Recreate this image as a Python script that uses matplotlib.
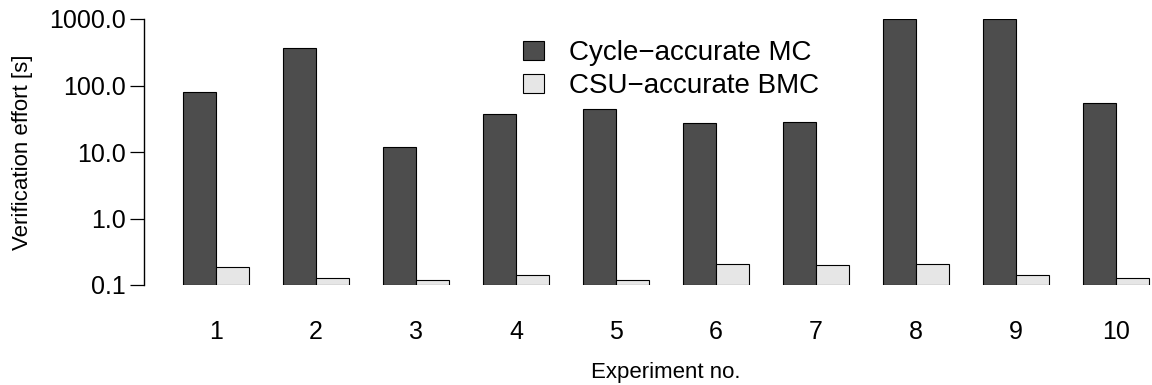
import matplotlib
matplotlib.use('Agg')
import matplotlib.pyplot as plt
from matplotlib.patches import Patch
import numpy as np

plt.rcParams['font.family'] = ['Liberation Sans', 'DejaVu Sans']

# Data
experiments = ['1', '2', '3', '4', '5', '6', '7', '8', '9', '10']
cycle_mc = [79, 363, 12.0, 37.7, 44.8, 27.0, 28.0, 1000, 1000, 54]
csu_bmc = [0.188, 0.129, 0.118, 0.14, 0.118, 0.207, 0.2, 0.207, 0.14, 0.127]
series_names = ['Cycle\u2212accurate MC', 'CSU\u2212accurate BMC']
y_ticks = [0.1, 1, 10, 100, 1000]
y_tick_labels = ['0.1', '1.0', '10.0', '100.0', '1000.0']

DARK = '#4D4D4D'
LIGHT = '#E6E6E6'
BASE = 0.1

fig = plt.figure(figsize=(11.52, 3.85), dpi=100)
# plot region (right edge lies beyond the cropped image, as in the reference)
ax = fig.add_axes([144 / 1152, 1 - 285 / 385, (1188 - 144) / 1152, (285 - 19) / 385])

n = len(experiments)
group_left = np.arange(n) * 3 + 1
dark_vals = np.array(cycle_mc)
light_vals = np.array(csu_bmc)

ax.bar(group_left, dark_vals - BASE, width=1, bottom=BASE, align='edge',
       color=DARK, edgecolor='black', linewidth=0.8)
ax.bar(group_left + 1, light_vals - BASE, width=1, bottom=BASE, align='edge',
       color=LIGHT, edgecolor='black', linewidth=0.8)

ax.set_yscale('log')
ax.set_ylim(0.1, 1000)
ax.set_xlim(-0.16, 31.16)
ax.set_yticks(y_ticks)
ax.set_yticklabels(y_tick_labels)
ax.minorticks_off()
ax.set_xticks(group_left + 1)
ax.set_xticklabels(experiments)

for s in ['top', 'right', 'bottom']:
    ax.spines[s].set_visible(False)
ax.spines['left'].set_linewidth(1.0)

ax.tick_params(axis='y', length=10, width=0.9, pad=3, labelsize=18)
ax.tick_params(axis='x', length=0, pad=25, labelsize=18)

ax.set_ylabel('Verification effort [s]', fontsize=16, labelpad=12)
ax.set_xlabel('Experiment no.', fontsize=16, labelpad=13)

handles = [Patch(facecolor=DARK, edgecolor='black', linewidth=0.8),
           Patch(facecolor=LIGHT, edgecolor='black', linewidth=0.8)]
fig.legend(handles, series_names, loc='center left',
           bbox_to_anchor=(523 / 1152, 1 - 69.75 / 385),
           frameon=False, fontsize=20, borderpad=0, borderaxespad=0,
           handlelength=0.76, handleheight=0.65, handletextpad=0.9,
           labelspacing=0.26)

fig.savefig('out.png', dpi=100)
